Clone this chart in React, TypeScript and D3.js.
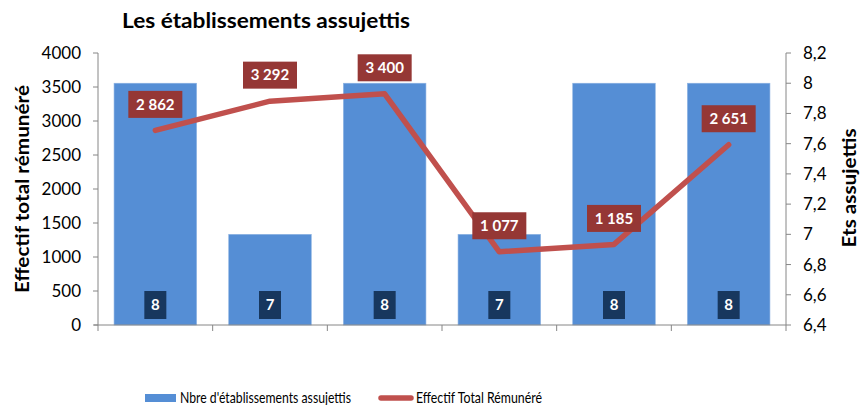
import React from 'react';
import * as d3 from 'd3';

// six periods, no label shown on the category axis
const categories = ['p1', 'p2', 'p3', 'p4', 'p5', 'p6'];
const etablissements = [8, 7, 8, 7, 8, 8];
const effectifs = [2862, 3292, 3400, 1077, 1185, 2651];
const leftTicks = [0, 500, 1000, 1500, 2000, 2500, 3000, 3500, 4000];
const rightTicks = [6.4, 6.6, 6.8, 7, 7.2, 7.4, 7.6, 7.8, 8, 8.2];

const W = 861;
const H = 405;
const FONT = 'Lato, "Open Sans", sans-serif';

const fmtSpace = (v: number) => d3.format(',')(v).replace(/,/g, ' ');
const fmtComma = (v: number) => String(v).replace('.', ',');

const App = () => {
  const margin = { top: 53, right: 75, bottom: 80, left: 98 };
  const x0 = margin.left;
  const x1 = W - margin.right; // 786
  const yBottom = H - margin.bottom; // 325

  const x = d3.scaleBand<string>().domain(categories).range([x0, x1]).paddingInner(0.28).paddingOuter(0.14);
  const yLeft = d3.scaleLinear().domain([0, 4000]).range([yBottom, margin.top]);
  const yRight = d3.scaleLinear().domain([6.4, 8.2]).range([yBottom, margin.top]);

  const step = (x1 - x0) / categories.length;
  const cx = (c: string) => (x(c) ?? 0) + x.bandwidth() / 2;

  const line = d3
    .line<number>()
    .x((_, i) => cx(categories[i]))
    .y(d => yLeft(d));

  const axisColor = '#868686';

  return (
    <svg width={W} height={H} style={{ position: 'absolute', left: 0, top: 0, background: '#fff' }} fontFamily={FONT}>
      <text x={266} y={28} textAnchor="middle" fontSize={21} fontWeight="bold" fill="#000" textLength={288} lengthAdjust="spacingAndGlyphs">
        Les établissements assujettis
      </text>

      {/* bars on the right axis */}
      {categories.map((c, i) => (
        <rect
          key={c}
          x={x(c)}
          y={yRight(etablissements[i])}
          width={x.bandwidth()}
          height={yBottom - yRight(etablissements[i])}
          fill="#558ED5"
          stroke="#8DB3E2"
          strokeWidth={0.6}
        />
      ))}

      {/* left axis */}
      <line x1={x0} x2={x0} y1={margin.top} y2={yBottom} stroke={axisColor} />
      {leftTicks.map(t => (
        <g key={t}>
          <line x1={x0 - 5} x2={x0} y1={yLeft(t)} y2={yLeft(t)} stroke={axisColor} />
          <text x={x0 - 17} y={yLeft(t)} dy="0.35em" textAnchor="end" fontSize={17} fill="#000">
            {t}
          </text>
        </g>
      ))}

      {/* right axis */}
      <line x1={x1} x2={x1} y1={margin.top} y2={yBottom} stroke={axisColor} />
      {rightTicks.map(t => (
        <g key={t}>
          <line x1={x1} x2={x1 + 5} y1={yRight(t)} y2={yRight(t)} stroke={axisColor} />
          <text x={x1 + 17} y={yRight(t)} dy="0.35em" textAnchor="start" fontSize={17} fill="#000">
            {fmtComma(Math.round(t * 10) / 10)}
          </text>
        </g>
      ))}

      {/* category axis */}
      <line x1={x0 - 4} x2={x1} y1={yBottom} y2={yBottom} stroke={axisColor} />
      {d3.range(categories.length + 1).map(i => (
        <line key={i} x1={x0 + i * step} x2={x0 + i * step} y1={yBottom} y2={yBottom + 6} stroke={axisColor} />
      ))}

      {/* axis titles */}
      <text
        transform={`translate(22, 189) rotate(-90)`}
        textAnchor="middle"
        dy="0.35em"
        fontSize={19}
        fontWeight="bold"
        fill="#000"
        textLength={208}
        lengthAdjust="spacingAndGlyphs"
      >
        Effectif total rémunéré
      </text>
      <text
        transform={`translate(850, 188) rotate(-90)`}
        textAnchor="middle"
        dy="0.35em"
        fontSize={18}
        fontWeight="bold"
        fill="#000"
        textLength={119}
        lengthAdjust="spacingAndGlyphs"
      >
        Ets assujettis
      </text>

      {/* bar labels */}
      {categories.map((c, i) => (
        <g key={c}>
          <rect x={cx(c) - 11} y={yBottom - 34} width={22} height={28} fill="#17375E" />
          <text x={cx(c)} y={yBottom - 20} dy="0.35em" textAnchor="middle" fontSize={15} fontWeight="bold" fill="#fff">
            {etablissements[i]}
          </text>
        </g>
      ))}

      {/* line on the left axis */}
      <path d={line(effectifs) ?? ''} fill="none" stroke="#C0504D" strokeWidth={5.5} strokeLinejoin="round" strokeLinecap="round" />

      {effectifs.map((v, i) => {
        const px = cx(categories[i]);
        const py = yLeft(v) - 26;
        return (
          <g key={i}>
            <rect x={px - 27} y={py - 13.5} width={54} height={27} fill="#953735" />
            <text x={px} y={py} dy="0.35em" textAnchor="middle" fontSize={15} fontWeight="bold" fill="#fff">
              {fmtSpace(v)}
            </text>
          </g>
        );
      })}

      {/* legend */}
      <rect x={145} y={394} width={31} height={8} fill="#558ED5" />
      <text x={180} y={398} dy="0.35em" fontSize={15} fill="#000" textLength={171} lengthAdjust="spacingAndGlyphs">
        Nbre d'établissements assujettis
      </text>
      <line x1={381} x2={411} y1={398} y2={398} stroke="#C0504D" strokeWidth={5.5} strokeLinecap="round" />
      <text x={416} y={398} dy="0.35em" fontSize={15} fill="#000" textLength={126} lengthAdjust="spacingAndGlyphs">
        Effectif Total Rémunéré
      </text>
    </svg>
  );
};

export default App;
